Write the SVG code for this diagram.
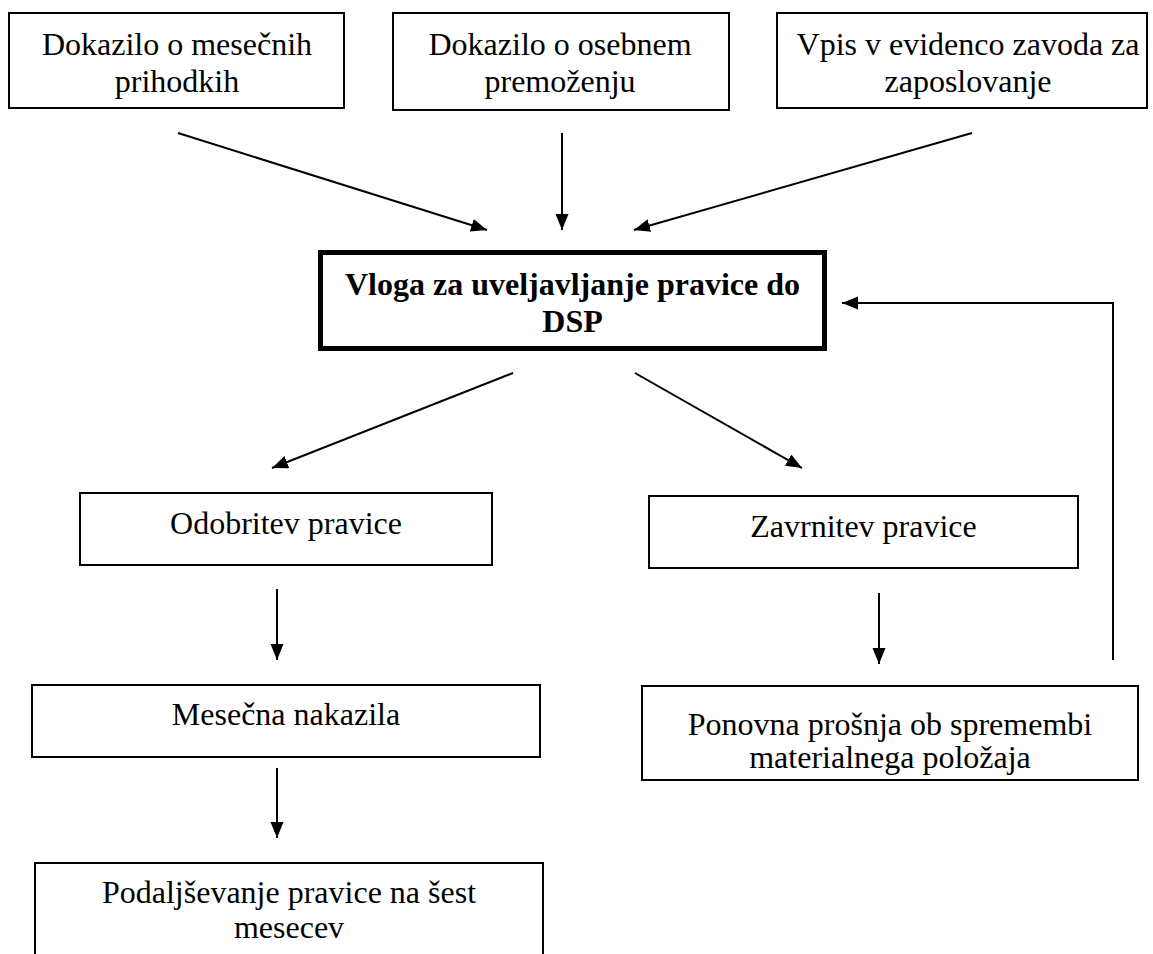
<svg xmlns="http://www.w3.org/2000/svg" width="1153" height="954" viewBox="0 0 1153 954">
<defs>
<marker id="ah" markerUnits="userSpaceOnUse" markerWidth="18" markerHeight="14" refX="16" refY="6.5" orient="auto">
<path d="M0,0 L16,6.5 L0,13 z" fill="#000"/>
</marker>
<style>
.box{fill:#fff;stroke:#000;stroke-width:2}
.main{fill:#fff;stroke:#000;stroke-width:5}
.t{font-family:"Liberation Serif","Times New Roman",serif;font-size:32px;fill:#000;text-anchor:middle}
.b{font-weight:bold}
.c{fill:none;stroke:#000;stroke-width:2}
</style>
</defs>
<rect width="1153" height="954" fill="#fff"/>
<g id="n1"><rect class="box" x="9" y="13" width="335" height="95"/><text class="t" x="177" y="55">Dokazilo o mesečnih</text><text class="t" x="177" y="92">prihodkih</text></g>
<g id="n2"><rect class="box" x="393" y="13" width="336" height="97"/><text class="t" x="560" y="55">Dokazilo o osebnem</text><text class="t" x="560" y="92">premoženju</text></g>
<g id="n3"><rect class="box" x="777" y="13" width="370" height="95"/><text class="t" x="968" y="55">Vpis v evidenco zavoda za</text><text class="t" x="968" y="92">zaposlovanje</text></g>
<g id="n4"><rect class="main" x="320.5" y="252.5" width="504" height="96"/><text class="t b" x="572.5" y="295">Vloga za uveljavljanje pravice do</text><text class="t b" x="572.5" y="332">DSP</text></g>
<g id="n5"><rect class="box" x="80" y="493" width="412" height="72"/><text class="t" x="286" y="534">Odobritev pravice</text></g>
<g id="n6"><rect class="box" x="649" y="496" width="429" height="72"/><text class="t" x="863.5" y="537">Zavrnitev pravice</text></g>
<g id="n7"><rect class="box" x="32" y="685" width="508" height="72"/><text class="t" x="286" y="725">Mesečna nakazila</text></g>
<g id="n8"><rect class="box" x="35" y="863" width="508" height="110"/><text class="t" x="289" y="903">Podaljševanje pravice na šest</text><text class="t" x="289" y="938">mesecev</text></g>
<g id="n9"><rect class="box" x="642" y="686" width="496" height="94"/><text class="t" x="890" y="735">Ponovna prošnja ob spremembi</text><text class="t" x="890" y="768">materialnega položaja</text></g>
<g id="connectors">
<line class="c" x1="178" y1="133" x2="487" y2="230" marker-end="url(#ah)"/>
<line class="c" x1="562" y1="133" x2="562" y2="230" marker-end="url(#ah)"/>
<line class="c" x1="972" y1="133" x2="634" y2="230" marker-end="url(#ah)"/>
<polyline class="c" points="1113,660 1113,303 842,303" marker-end="url(#ah)"/>
<line class="c" x1="513" y1="373" x2="272" y2="468" marker-end="url(#ah)"/>
<line class="c" x1="635" y1="373" x2="802" y2="468" marker-end="url(#ah)"/>
<line class="c" x1="277" y1="589" x2="277" y2="660" marker-end="url(#ah)"/>
<line class="c" x1="277" y1="768" x2="277" y2="838" marker-end="url(#ah)"/>
<line class="c" x1="879" y1="593" x2="879" y2="664" marker-end="url(#ah)"/>
</g>
</svg>
